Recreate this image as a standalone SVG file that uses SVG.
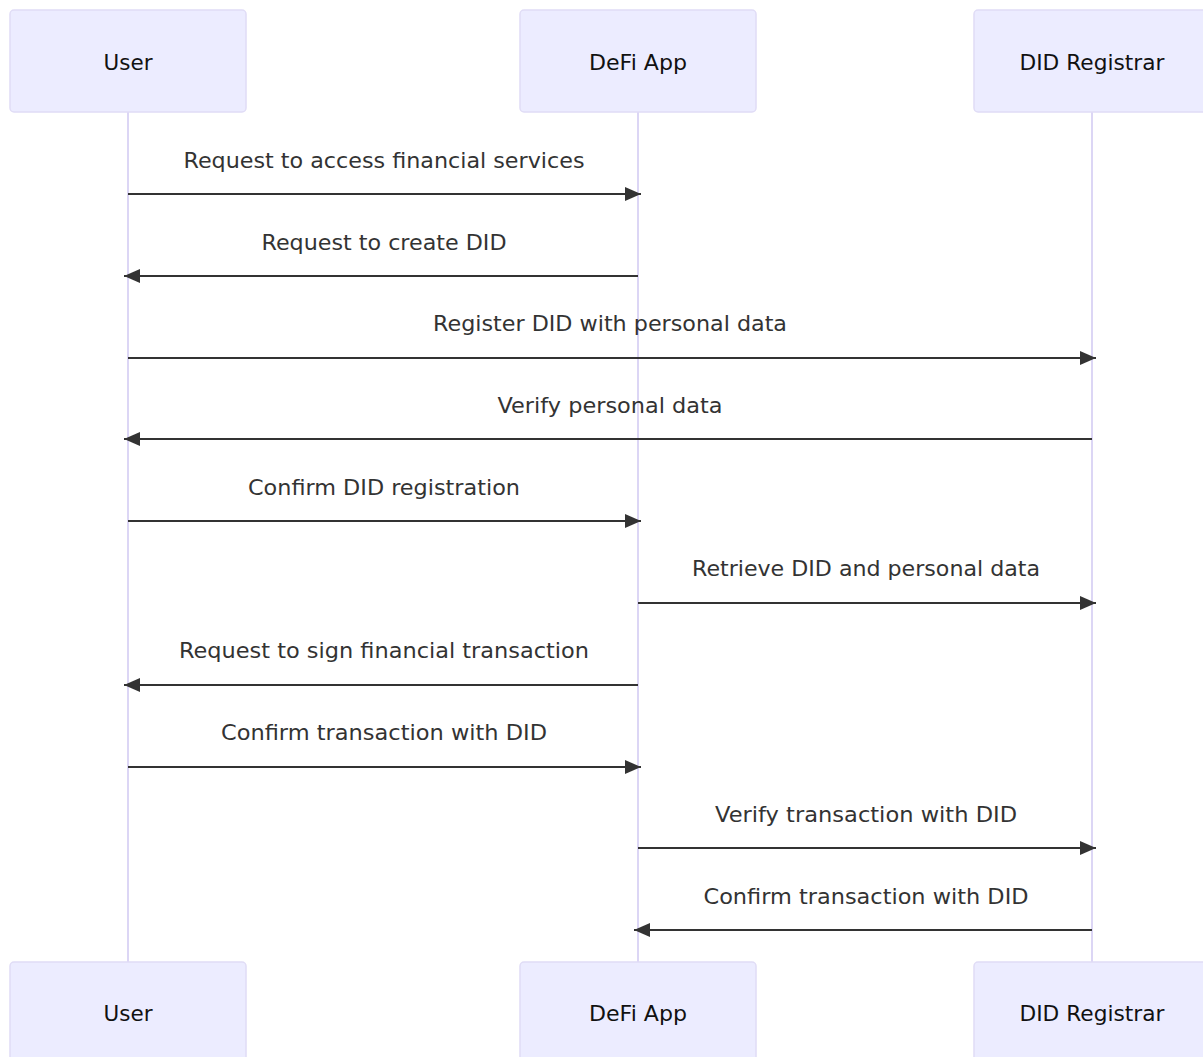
<svg xmlns="http://www.w3.org/2000/svg" width="1203" height="1057" viewBox="0 0 1203 1057">
<style>
.box{fill:#ECECFF;stroke:#e0dcf6;stroke-width:1.5}
.life{stroke:#dcd6f5;stroke-width:2}
.name{font-family:"DejaVu Sans","Open Sans",sans-serif;font-size:22px;fill:#111;text-anchor:middle;dominant-baseline:central}
.msg{stroke:#333;stroke-width:2;fill:none}
.lbl{font-family:"DejaVu Sans","Open Sans",sans-serif;font-size:22px;fill:#333;text-anchor:middle;dominant-baseline:central}
</style>
<defs>
<marker id="ah" viewBox="0 0 16 14" refX="16" refY="7" markerWidth="16" markerHeight="14" markerUnits="userSpaceOnUse" orient="auto">
<path d="M0,0 L16,7 L0,14 Z" fill="#333"/>
</marker>
</defs>
<rect width="1203" height="1057" fill="#fff"/>
<g id="lifelines">
<line class="life" x1="128" y1="112" x2="128" y2="962"/>
<line class="life" x1="638" y1="112" x2="638" y2="962"/>
<line class="life" x1="1092" y1="112" x2="1092" y2="962"/>
</g>
<g id="user-top"><rect class="box" x="10" y="10" width="236" height="102" rx="4"/><text class="name" x="128" y="62" textLength="49" lengthAdjust="spacingAndGlyphs">User</text></g>
<g id="defi-top"><rect class="box" x="520" y="10" width="236" height="102" rx="4"/><text class="name" x="638" y="62" textLength="98" lengthAdjust="spacingAndGlyphs">DeFi App</text></g>
<g id="did-top"><rect class="box" x="974" y="10" width="236" height="102" rx="4"/><text class="name" x="1092" y="62" textLength="145" lengthAdjust="spacingAndGlyphs">DID Registrar</text></g>
<g id="user-bottom"><rect class="box" x="10" y="962" width="236" height="102" rx="4"/><text class="name" x="128" y="1013" textLength="49" lengthAdjust="spacingAndGlyphs">User</text></g>
<g id="defi-bottom"><rect class="box" x="520" y="962" width="236" height="102" rx="4"/><text class="name" x="638" y="1013" textLength="98" lengthAdjust="spacingAndGlyphs">DeFi App</text></g>
<g id="did-bottom"><rect class="box" x="974" y="962" width="236" height="102" rx="4"/><text class="name" x="1092" y="1013" textLength="145" lengthAdjust="spacingAndGlyphs">DID Registrar</text></g>
<g id="connectors">
<line class="msg" x1="128" y1="194" x2="641" y2="194" marker-end="url(#ah)"/>
<text class="lbl" x="384" y="160" textLength="401" lengthAdjust="spacingAndGlyphs">Request to access financial services</text>
<line class="msg" x1="638" y1="276" x2="124" y2="276" marker-end="url(#ah)"/>
<text class="lbl" x="384" y="242" textLength="245" lengthAdjust="spacingAndGlyphs">Request to create DID</text>
<line class="msg" x1="128" y1="358" x2="1096" y2="358" marker-end="url(#ah)"/>
<text class="lbl" x="610" y="323" textLength="354" lengthAdjust="spacingAndGlyphs">Register DID with personal data</text>
<line class="msg" x1="1092" y1="439" x2="124" y2="439" marker-end="url(#ah)"/>
<text class="lbl" x="610" y="405" textLength="225" lengthAdjust="spacingAndGlyphs">Verify personal data</text>
<line class="msg" x1="128" y1="521" x2="641" y2="521" marker-end="url(#ah)"/>
<text class="lbl" x="384" y="487" textLength="272" lengthAdjust="spacingAndGlyphs">Confirm DID registration</text>
<line class="msg" x1="638" y1="603" x2="1096" y2="603" marker-end="url(#ah)"/>
<text class="lbl" x="866" y="568" textLength="348" lengthAdjust="spacingAndGlyphs">Retrieve DID and personal data</text>
<line class="msg" x1="638" y1="685" x2="124" y2="685" marker-end="url(#ah)"/>
<text class="lbl" x="384" y="650" textLength="410" lengthAdjust="spacingAndGlyphs">Request to sign financial transaction</text>
<line class="msg" x1="128" y1="767" x2="641" y2="767" marker-end="url(#ah)"/>
<text class="lbl" x="384" y="732" textLength="326" lengthAdjust="spacingAndGlyphs">Confirm transaction with DID</text>
<line class="msg" x1="638" y1="848" x2="1096" y2="848" marker-end="url(#ah)"/>
<text class="lbl" x="866" y="814" textLength="302" lengthAdjust="spacingAndGlyphs">Verify transaction with DID</text>
<line class="msg" x1="1092" y1="930" x2="634" y2="930" marker-end="url(#ah)"/>
<text class="lbl" x="866" y="896" textLength="325" lengthAdjust="spacingAndGlyphs">Confirm transaction with DID</text>
</g>
</svg>
